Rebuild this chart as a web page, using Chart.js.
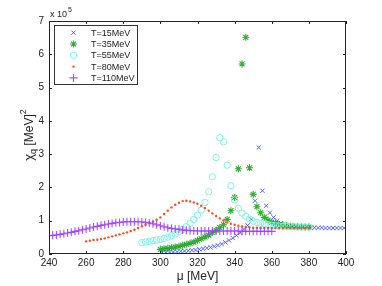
<!DOCTYPE html>
<html>
<head>
<meta charset="utf-8">
<script src="https://cdn.jsdelivr.net/npm/chart.js@4/dist/chart.umd.min.js"></script>
<style>
  html, body { margin: 0; padding: 0; background: #fff; }
  #wrap { width: 382px; height: 286px; }
</style>
</head>
<body>
<div id="wrap"><canvas id="chart" width="382" height="286"></canvas></div>
<script>
// chi_q values in units of 1e5 MeV^2, mu in MeV
const mu15 = [301,303,305,307,309,311,313,315,317,319,321,323,325,327,329,331,333,335,337,339,
  341,343,345,347,349,351,353,355,357,359,361,363,365,367,369,371,373,375,377,379,
  381,383,385,387,389,391,393,395,397,399];
const chi15 = [0.05,0.05,0.06,0.06,0.07,0.08,0.09,0.10,0.11,0.12,0.14,0.16,0.18,0.20,0.23,0.26,0.30,0.35,0.41,0.48,
  0.56,0.64,0.74,0.86,1.05,1.60,3.20,1.90,1.45,1.24,1.10,1.00,0.93,0.88,0.85,0.83,0.82,0.81,0.80,0.80,
  0.79,0.79,0.79,0.79,0.78,0.78,0.78,0.78,0.78,0.78];

const mu35 = [300,302,304,306,308,310,312,314,316,318,320,322,324,326,328,330,332,334,336,338,
  340,342,344,346,348,350,352,354,356,358,360,362,364,366,368,370,372,374,376,378,380];
const chi35 = [0.14,0.16,0.17,0.19,0.21,0.23,0.26,0.29,0.32,0.36,0.41,0.46,0.51,0.57,0.64,0.71,0.79,0.88,1.04,1.30,
  1.70,2.56,5.71,6.51,2.59,1.79,1.42,1.24,1.10,1.02,0.96,0.92,0.89,0.87,0.85,0.84,0.83,0.82,0.82,0.81,0.81];

const mu55 = [290,292,294,296,298,300,302,304,306,308,310,312,314,316,318,320,322,324,326,328,
  330,332,334,336,338,340,342,344,346,348,350,352,354,356,358,360,362,364,366,368,370,372,374,376,378,380];
const chi55 = [0.34,0.36,0.38,0.40,0.42,0.44,0.47,0.51,0.55,0.60,0.67,0.74,0.82,0.92,1.04,1.17,1.32,1.55,1.87,2.32,
  2.90,3.49,3.37,2.67,2.05,1.62,1.37,1.23,1.13,1.05,0.99,0.95,0.92,0.90,0.88,0.86,0.85,0.84,0.83,0.83,
  0.82,0.82,0.81,0.81,0.81,0.81];

const mu80 = [260,262,264,266,268,270,272,274,276,278,280,282,284,286,288,290,292,294,296,298,
  300,302,304,306,308,310,312,314,316,318,320,322,324,326,328,330,332,334,336,338,
  340,342,344,346,348,350,352,354,356,358,360,362,364,366,368,370,372,374,376,378,380];
const chi80 = [0.38,0.40,0.42,0.43,0.45,0.47,0.50,0.53,0.56,0.59,0.62,0.65,0.69,0.73,0.78,0.83,0.88,0.93,0.97,1.03,
  1.10,1.20,1.30,1.40,1.48,1.54,1.59,1.60,1.58,1.55,1.51,1.45,1.38,1.30,1.22,1.14,1.07,1.01,0.95,0.91,
  0.88,0.85,0.83,0.81,0.80,0.79,0.79,0.78,0.78,0.78,0.78,0.78,0.78,0.78,0.78,0.78,0.78,0.78,0.78,0.78,0.78];

const mu110 = [240,242,244,246,248,250,252,254,256,258,260,262,264,266,268,270,272,274,276,278,
  280,282,284,286,288,290,292,294,296,298,300,302,304,306,308,310,312,314,316,318,
  320,322,324,326,328,330,332,334,336,338,340,342,344,346,348,350,352,354,356,358,360];
const chi110 = [0.55,0.56,0.57,0.59,0.61,0.63,0.65,0.68,0.70,0.73,0.75,0.78,0.81,0.83,0.86,0.88,0.90,0.92,0.94,0.95,
  0.96,0.97,0.97,0.97,0.97,0.96,0.95,0.93,0.91,0.88,0.85,0.82,0.79,0.77,0.75,0.74,0.72,0.71,0.70,0.70,
  0.69,0.69,0.69,0.69,0.69,0.69,0.69,0.69,0.69,0.69,0.69,0.69,0.68,0.68,0.68,0.68,0.68,0.68,0.68,0.68,0.68];

const labels = ["T=15MeV","T=35MeV","T=55MeV","T=80MeV","T=110MeV"];
const xTicks = [240,260,280,300,320,340,360,380,400];
const yTicks = [0,1,2,3,4,5,6,7];

const FONT = "'Liberation Sans', Arial, sans-serif";

function pts(xs, ys) { return xs.map((x, i) => ({x: x, y: ys[i]})); }

const datasets = [
  {label: labels[0], data: pts(mu15, chi15), pointStyle: 'crossRot', pointRadius: 3,
   borderColor: 'rgba(55,75,255,0.85)', backgroundColor: 'rgba(55,75,255,0.85)', pointBorderWidth: 1, order: 5},
  {label: labels[1], data: pts(mu35, chi35), pointStyle: 'star', pointRadius: 3.5,
   borderColor: 'rgba(30,165,30,0.9)', backgroundColor: 'rgba(30,165,30,0.9)', pointBorderWidth: 1.1, order: 4},
  {label: labels[2], data: pts(mu55, chi55), pointStyle: 'circle', pointRadius: 3.2,
   borderColor: '#7ef3e2', backgroundColor: 'rgba(0,0,0,0)', pointBorderWidth: 1, order: 3},
  {label: labels[3], data: pts(mu80, chi80), pointStyle: 'circle', pointRadius: 1.2,
   borderColor: '#ff4a1a', backgroundColor: '#ff4a1a', pointBorderWidth: 0, order: 2},
  {label: labels[4], data: pts(mu110, chi110), pointStyle: 'cross', pointRadius: 4,
   borderColor: 'rgba(160,60,255,0.9)', backgroundColor: 'rgba(160,60,255,0.9)', pointBorderWidth: 1.1, order: 1}
];

// frame, inward ticks, axis titles, exponent label, legend box
const decor = {
  id: 'decor',
  afterDraw(chart) {
    const ctx = chart.ctx, a = chart.chartArea;
    const xs = chart.scales.x, ys = chart.scales.y;
    ctx.save();
    ctx.strokeStyle = '#222';
    ctx.lineWidth = 1;
    ctx.strokeRect(a.left + 0.5, a.top + 0.5, a.right - a.left - 1, a.bottom - a.top - 1);
    ctx.beginPath();
    xTicks.forEach(v => {
      const px = Math.round(xs.getPixelForValue(v)) + 0.5;
      ctx.moveTo(px, a.bottom); ctx.lineTo(px, a.bottom - 3);
      ctx.moveTo(px, a.top); ctx.lineTo(px, a.top + 3);
    });
    yTicks.forEach(v => {
      const py = Math.round(ys.getPixelForValue(v)) + 0.5;
      ctx.moveTo(a.left, py); ctx.lineTo(a.left + 3, py);
      ctx.moveTo(a.right, py); ctx.lineTo(a.right - 3, py);
    });
    ctx.stroke();

    ctx.fillStyle = '#222';
    // exponent
    ctx.font = '9px ' + FONT;
    ctx.textAlign = 'left'; ctx.textBaseline = 'alphabetic';
    ctx.fillText('x 10', a.left + 1, 17);
    ctx.font = '7px ' + FONT;
    ctx.fillText('5', a.left + 19, 12);

    // x title
    ctx.font = '12px ' + FONT;
    ctx.textAlign = 'center';
    ctx.fillText('\u03bc [MeV]', (a.left + a.right) / 2, 280);

    // y title
    ctx.save();
    ctx.translate(33, 135);
    ctx.rotate(-Math.PI / 2);
    ctx.textAlign = 'left';
    ctx.font = '13px ' + FONT;
    const w0 = ctx.measureText('\u03c7').width;
    ctx.font = '9px ' + FONT;
    const wq = ctx.measureText('q').width;
    ctx.font = '12px ' + FONT;
    const wb = ctx.measureText(' [MeV]').width;
    ctx.font = '9px ' + FONT;
    const w2 = ctx.measureText('2').width;
    let x = -(w0 + wq + wb + w2) / 2;
    ctx.font = '13px ' + FONT; ctx.fillText('\u03c7', x, 0); x += w0;
    ctx.font = '9px ' + FONT; ctx.fillText('q', x, 3); x += wq;
    ctx.font = '12px ' + FONT; ctx.fillText(' [MeV]', x, 0); x += wb;
    ctx.font = '9px ' + FONT; ctx.fillText('2', x, -7);
    ctx.restore();

    // legend
    const lx = 54, ly = 25, lw = 83, lh = 59;
    ctx.fillStyle = '#fff';
    ctx.fillRect(lx, ly, lw, lh);
    ctx.strokeStyle = '#333';
    ctx.strokeRect(lx + 0.5, ly + 0.5, lw, lh);
    ctx.font = '9px ' + FONT;
    ctx.textAlign = 'left'; ctx.textBaseline = 'middle';
    datasets.forEach((ds, i) => {
      const yy = 32.7 + i * 11.3;
      ctx.strokeStyle = ds.borderColor;
      ctx.fillStyle = ds.backgroundColor;
      ctx.lineWidth = ds.pointBorderWidth || 1;
      Chart.helpers.drawPoint(ctx, {pointStyle: ds.pointStyle, radius: ds.pointRadius, borderWidth: ds.pointBorderWidth}, 73.5, yy);
      ctx.fillStyle = '#222';
      ctx.fillText(ds.label, 91, yy + 0.5);
    });
    ctx.restore();
  }
};

new Chart(document.getElementById('chart'), {
  type: 'scatter',
  data: {datasets: datasets},
  options: {
    responsive: false,
    animation: false,
    layout: {padding: {left: 0, right: 36, top: 21, bottom: 0}},
    plugins: {legend: {display: false}, tooltip: {enabled: false}},
    scales: {
      x: {
        type: 'linear', min: 240, max: 400,
        afterFit: s => { s.height = 32; },
        afterBuildTicks: s => { s.ticks = xTicks.map(v => ({value: v})); },
        grid: {drawOnChartArea: false, drawTicks: false},
        border: {display: false},
        ticks: {padding: 3, color: '#222', font: {family: FONT, size: 10}, maxRotation: 0}
      },
      y: {
        min: 0, max: 7,
        afterFit: s => { s.width = 49; },
        afterBuildTicks: s => { s.ticks = yTicks.map(v => ({value: v})); },
        grid: {drawOnChartArea: false, drawTicks: false},
        border: {display: false},
        ticks: {padding: 5, color: '#222', font: {family: FONT, size: 10}}
      }
    }
  },
  plugins: [decor]
});
</script>
</body>
</html>
